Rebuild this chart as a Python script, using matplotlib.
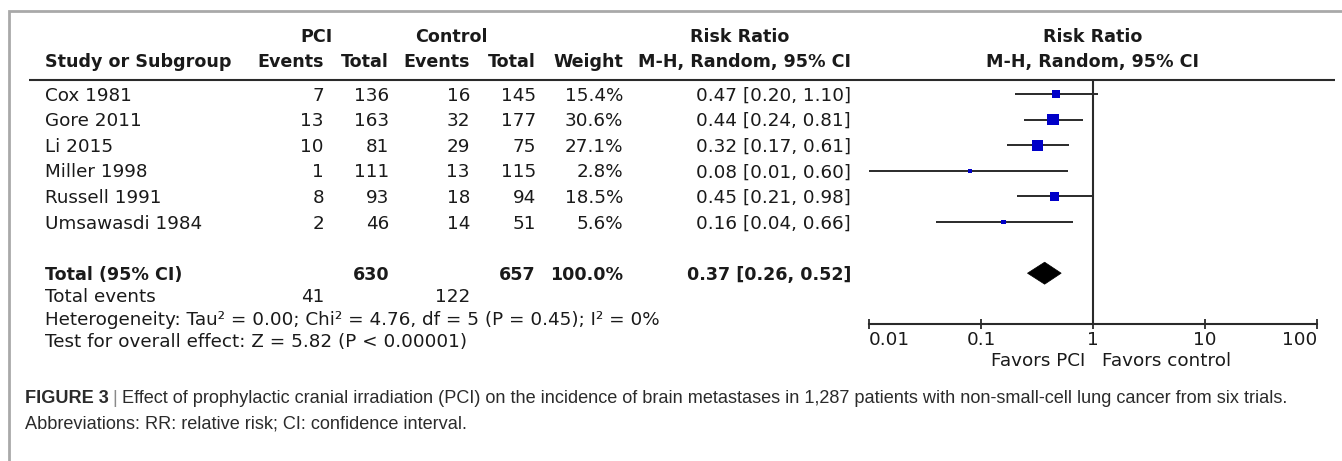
import matplotlib
matplotlib.use("Agg")
import matplotlib.pyplot as plt
from matplotlib.patches import Polygon

# ---------------- data ----------------
studies = ["Cox 1981", "Gore 2011", "Li 2015", "Miller 1998", "Russell 1991", "Umsawasdi 1984"]
pci_events = [7, 13, 10, 1, 8, 2]
pci_total = [136, 163, 81, 111, 93, 46]
ctl_events = [16, 32, 29, 13, 18, 14]
ctl_total = [145, 177, 75, 115, 94, 51]
weights = [15.4, 30.6, 27.1, 2.8, 18.5, 5.6]
rr = [0.47, 0.44, 0.32, 0.08, 0.45, 0.16]
ci_low = [0.20, 0.24, 0.17, 0.01, 0.21, 0.04]
ci_high = [1.10, 0.81, 0.61, 0.60, 0.98, 0.66]

total_pci = 630
total_ctl = 657
total_weight = 100.0
total_rr = 0.37
total_low = 0.26
total_high = 0.52
events_pci = 41
events_ctl = 122

tick_values = [0.01, 0.1, 1, 10, 100]
tick_labels = ["0.01", "0.1", "1", "10", "100"]

heterogeneity = "Heterogeneity: Tau² = 0.00; Chi² = 4.76, df = 5 (P = 0.45); I² = 0%"
overall = "Test for overall effect: Z = 5.82 (P < 0.00001)"
caption_bold = "FIGURE 3"
caption_line1 = ("Effect of prophylactic cranial irradiation (PCI) on the incidence of brain "
                 "metastases in 1,287 patients with non-small-cell lung cancer from six trials.")
caption_line2 = "Abbreviations: RR: relative risk; CI: confidence interval."

# ---------------- layout ----------------
W, H = 1342, 461
fig = plt.figure(figsize=(W / 100, H / 100), dpi=100)
fig.patch.set_facecolor("white")
ax0 = fig.add_axes([0, 0, 1, 1])
ax0.set_xlim(0, W)
ax0.set_ylim(H, 0)
ax0.axis("off")

TXT = "#1a1a1a"
LINE = "#2a2a2a"
FAM = ["DejaVu Sans"]
FS = 13.2
FSB = 12.6

row0, dy = 94.0, 25.6
def rowy(i):
    return row0 + dy * i
BASE = 6.5  # baseline offset from row centre (px)

def put(x, i_or_y, s, ha="left", bold=False, is_row=True, size=None):
    y = rowy(i_or_y) if is_row else i_or_y
    ax0.text(x, y + BASE, s, ha=ha, va="baseline", color=TXT, family=FAM,
             fontsize=size if size else (FSB if bold else FS),
             fontweight="bold" if bold else "normal")

# column anchors (right edges)
X_NAME = 45
X_PE, X_PT, X_CE, X_CT, X_W, X_RR = 324, 389, 470, 536, 623, 851
X_FOREST_C = 1093

# header
H1, H2 = 42, 67
put(317, H1 - BASE, "PCI", ha="center", bold=True, is_row=False)
put(451, H1 - BASE, "Control", ha="center", bold=True, is_row=False)
put(740, H1 - BASE, "Risk Ratio", ha="center", bold=True, is_row=False)
put(X_FOREST_C, H1 - BASE, "Risk Ratio", ha="center", bold=True, is_row=False)
put(X_NAME, H2 - BASE, "Study or Subgroup", bold=True, is_row=False)
put(X_PE, H2 - BASE, "Events", ha="right", bold=True, is_row=False)
put(X_PT, H2 - BASE, "Total", ha="right", bold=True, is_row=False)
put(X_CE, H2 - BASE, "Events", ha="right", bold=True, is_row=False)
put(X_CT, H2 - BASE, "Total", ha="right", bold=True, is_row=False)
put(X_W, H2 - BASE, "Weight", ha="right", bold=True, is_row=False)
put(X_RR, H2 - BASE, "M-H, Random, 95% CI", ha="right", bold=True, is_row=False)
put(X_FOREST_C, H2 - BASE, "M-H, Random, 95% CI", ha="center", bold=True, is_row=False)

# header rule
ax0.plot([29, 1335], [80, 80], color=LINE, lw=1.5, solid_capstyle="butt")

# study rows
for i, name in enumerate(studies):
    put(X_NAME, i, name)
    put(X_PE, i, str(pci_events[i]), ha="right")
    put(X_PT, i, str(pci_total[i]), ha="right")
    put(X_CE, i, str(ctl_events[i]), ha="right")
    put(X_CT, i, str(ctl_total[i]), ha="right")
    put(X_W, i, f"{weights[i]:.1f}%", ha="right")
    put(X_RR, i, f"{rr[i]:.2f} [{ci_low[i]:.2f}, {ci_high[i]:.2f}]", ha="right")

TOT = 7
put(X_NAME, TOT, "Total (95% CI)", bold=True)
put(X_PT, TOT, str(total_pci), ha="right", bold=True)
put(X_CT, TOT, str(total_ctl), ha="right", bold=True)
put(X_W, TOT, f"{total_weight:.1f}%", ha="right", bold=True)
put(X_RR, TOT, f"{total_rr:.2f} [{total_low:.2f}, {total_high:.2f}]", ha="right", bold=True)

put(X_NAME, 295, "Total events", is_row=False)
put(X_PE, 295, str(events_pci), ha="right", is_row=False)
put(X_CE, 295, str(events_ctl), ha="right", is_row=False)
put(X_NAME, 318, heterogeneity, is_row=False)
put(X_NAME, 340, overall, is_row=False)

# border
ax0.plot([9, 9, W + 2], [H + 2, 11, 11], color="#a9a9a9", lw=2.0, solid_joinstyle="miter")

# ---------------- forest axes ----------------
xl, xr = 869, 1317
ytop, ybot = 80, 324
axf = fig.add_axes([xl / W, 1 - ybot / H, (xr - xl) / W, (ybot - ytop) / H])
axf.patch.set_visible(False)
axf.set_xscale("log")
axf.set_xlim(tick_values[0], tick_values[-1])
axf.set_ylim((ybot - row0) / dy, (ytop - row0) / dy)
for s in ["top", "left", "right"]:
    axf.spines[s].set_visible(False)
axf.spines["bottom"].set_color(LINE)
axf.spines["bottom"].set_linewidth(1.5)
axf.set_yticks([])
axf.set_xticks(tick_values)
axf.set_xticklabels(tick_labels)
axf.minorticks_off()
axf.tick_params(axis="x", direction="inout", length=7.5, width=1.3, color=LINE,
                pad=1, labelsize=FS, labelcolor=TXT)
for lab in axf.get_xticklabels():
    lab.set_family(FAM)
labs = axf.get_xticklabels()
labs[0].set_ha("left")
labs[-1].set_ha("right")

axf.axvline(1, color=LINE, lw=1.5, zorder=1)

ys = list(range(len(studies)))
axf.hlines(ys, ci_low, ci_high, color=LINE, lw=1.4, zorder=2)
sizes = [(2.05 * w ** 0.5 * 0.72) ** 2 for w in weights]
axf.scatter(rr, ys, s=sizes, marker="s", color="#0000c8", linewidths=0, zorder=3)

hh = 11.0 / dy
diamond = Polygon([(total_low, TOT), (total_rr, TOT - hh), (total_high, TOT), (total_rr, TOT + hh)],
                  closed=True, facecolor="black", edgecolor="black", lw=0.5, zorder=3)
axf.add_patch(diamond)

axf.annotate("Favors PCI", xy=(1, 0), xycoords=("data", "axes fraction"),
             xytext=(-8, -42), textcoords="offset pixels", ha="right", va="baseline",
             fontsize=FS, family=FAM, color=TXT)
axf.annotate("Favors control", xy=(1, 0), xycoords=("data", "axes fraction"),
             xytext=(9, -42), textcoords="offset pixels", ha="left", va="baseline",
             fontsize=FS, family=FAM, color=TXT)

# ---------------- caption ----------------
CFAM = ["Liberation Sans Narrow", "Liberation Sans"]
CCOL = "#2b2b2b"
renderer = fig.canvas.get_renderer()

def caption(cs):
    arts = []
    t1 = ax0.text(25, 403, caption_bold, fontsize=cs, family=CFAM, fontweight="bold",
                  color=CCOL, va="baseline")
    arts.append(t1)
    x1 = t1.get_window_extent(renderer).x1
    t2 = ax0.text(x1 + 4, 403, "|", fontsize=cs, family=CFAM, color="#8a8a8a", va="baseline")
    arts.append(t2)
    x2 = t2.get_window_extent(renderer).x1
    t3 = ax0.text(x2 + 4, 403, caption_line1, fontsize=cs, family=CFAM, color=CCOL,
                  va="baseline")
    arts.append(t3)
    t4 = ax0.text(25, 428, caption_line2, fontsize=cs, family=CFAM, color=CCOL,
                  va="baseline")
    arts.append(t4)
    return arts, t3.get_window_extent(renderer).x1

cs0 = 11.0
arts, xend = caption(cs0)
for a in arts:
    a.remove()
cs = cs0 * (1283 - 25) / (xend - 25)
caption(cs)

fig.savefig("out.png", dpi=100, facecolor="white")
